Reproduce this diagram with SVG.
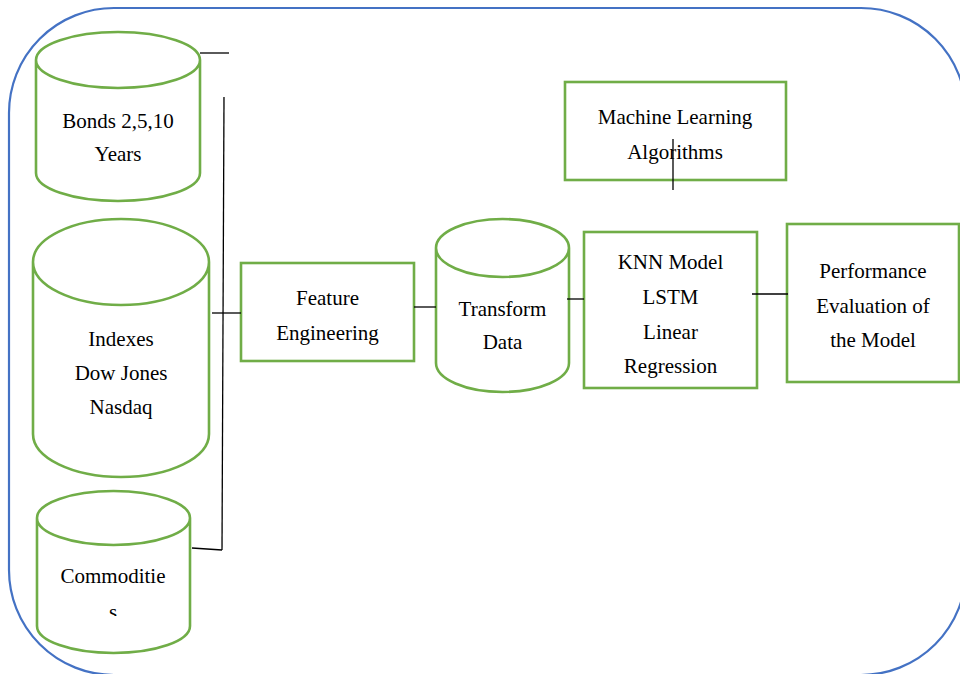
<svg xmlns="http://www.w3.org/2000/svg" width="960" height="674" viewBox="0 0 960 674">
<style>
.g{fill:#fff;stroke:#70AD47;stroke-width:2.6}
.c{fill:none;stroke:#000;stroke-width:1.3}
.t{font-family:"Liberation Serif","Times New Roman",serif;font-size:21px;fill:#000;text-anchor:middle}
</style>
<defs>
<clipPath id="sclip"><rect x="0" y="0" width="960" height="616"/></clipPath>
</defs>
<rect x="9" y="8" width="957" height="667" rx="105" ry="105" fill="none" stroke="#4472C4" stroke-width="2.2"/>
<g id="bonds">
<path class="g" d="M36,60 V173 A82,28 0 0 0 200,173 V60 A82,28 0 0 0 36,60 A82,28 0 0 0 200,60"/>
<text class="t" x="118" y="128">Bonds 2,5,10</text>
<text class="t" x="118" y="161">Years</text>
</g>
<g id="indexes">
<path class="g" d="M33,262 V434 A88,43 0 0 0 209,434 V262 A88,43 0 0 0 33,262 A88,43 0 0 0 209,262"/>
<text class="t" x="121" y="346">Indexes</text>
<text class="t" x="121" y="380">Dow Jones</text>
<text class="t" x="121" y="414">Nasdaq</text>
</g>
<g id="commodities">
<path class="g" d="M37,518 V626 A76.5,27 0 0 0 190,626 V518 A76.5,27 0 0 0 37,518 A76.5,27 0 0 0 190,518"/>
<text class="t" x="113" y="583">Commoditie</text>
<text class="t" x="113" y="619" clip-path="url(#sclip)">s</text>
</g>
<g id="feature">
<rect class="g" x="241" y="263" width="173" height="98"/>
<text class="t" x="327.5" y="305">Feature</text>
<text class="t" x="327.5" y="340">Engineering</text>
</g>
<g id="transform">
<path class="g" d="M436,248 V363 A66.5,29 0 0 0 569,363 V248 A66.5,29 0 0 0 436,248 A66.5,29 0 0 0 569,248"/>
<text class="t" x="502.5" y="316">Transform</text>
<text class="t" x="502.5" y="349">Data</text>
</g>
<g id="ml">
<rect class="g" x="565" y="82" width="221" height="98"/>
<text class="t" x="675" y="124">Machine Learning</text>
<text class="t" x="675" y="159">Algorithms</text>
</g>
<g id="models">
<rect class="g" x="584" y="232" width="173" height="156"/>
<text class="t" x="670.5" y="269">KNN Model</text>
<text class="t" x="670.5" y="304">LSTM</text>
<text class="t" x="670.5" y="339">Linear</text>
<text class="t" x="670.5" y="373">Regression</text>
</g>
<g id="performance">
<rect class="g" x="787" y="224" width="172" height="158"/>
<text class="t" x="873" y="278">Performance</text>
<text class="t" x="873" y="313">Evaluation of</text>
<text class="t" x="873" y="347">the Model</text>
</g>
<g id="connectors">
<line class="c" x1="200" y1="53" x2="229" y2="53"/>
<line class="c" x1="224" y1="97" x2="222" y2="550"/>
<line class="c" x1="212" y1="313" x2="241" y2="313"/>
<line class="c" x1="192" y1="548" x2="222" y2="550"/>
<line class="c" x1="414" y1="307" x2="436" y2="307"/>
<line class="c" x1="567" y1="299" x2="584" y2="299"/>
<line class="c" x1="673" y1="139" x2="673" y2="190"/>
<line class="c" x1="752" y1="294" x2="788" y2="294"/>
</g>
</svg>
